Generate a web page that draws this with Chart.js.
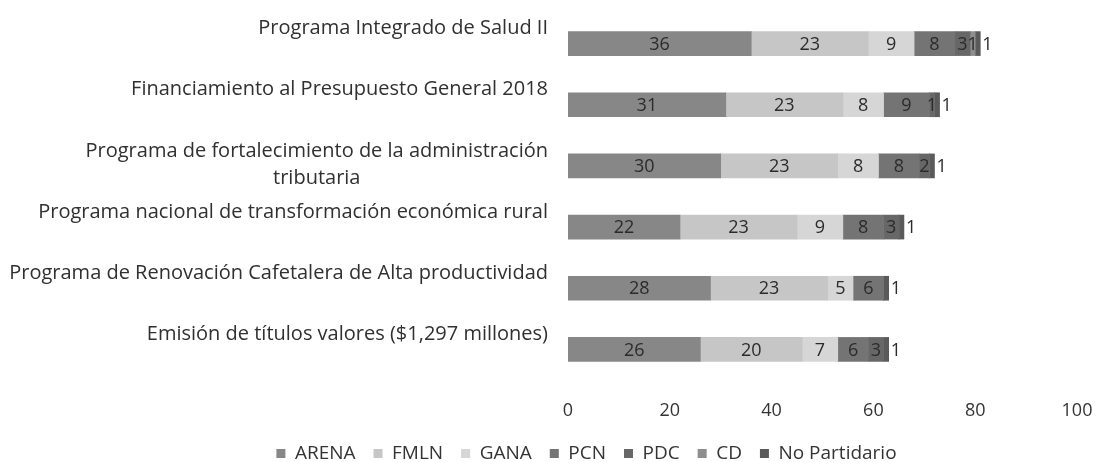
<!DOCTYPE html>
<html>
<head>
<meta charset="utf-8">
<script src="https://cdn.jsdelivr.net/npm/chart.js@4"></script>
<style>
  html, body { margin: 0; padding: 0; background: #fff; }
  #wrap { width: 1097px; height: 462px; position: relative; }
</style>
</head>
<body>
<div id="wrap"><canvas id="votosChart"></canvas></div>
<script>
// categorías (de arriba hacia abajo)
const programas = [
    'Programa Integrado de Salud II',
    'Financiamiento al Presupuesto General 2018',
    ['Programa de fortalecimiento de la administración', 'tributaria'],
    'Programa nacional de transformación económica rural',
    'Programa de Renovación Cafetalera de Alta productividad',
    'Emisión de títulos valores ($1,297 millones)'
];

const partidos = ['ARENA', 'FMLN', 'GANA', 'PCN', 'PDC', 'CD', 'No Partidario'];

const arena = [36, 31, 30, 22, 28, 26];
const fmln = [23, 23, 23, 23, 23, 20];
const gana = [9, 8, 8, 9, 5, 7];
const pcn = [8, 9, 8, 8, 6, 6];
const pdc = [3, 1, 2, 3, 0, 3];
const cd = [1, 0, 0, 0, 0, 0];
const noPartidario = [1, 1, 1, 1, 1, 1];

const xTicks = [0, 20, 40, 60, 80, 100];

const colores = ['#878787', '#c6c6c6', '#d6d6d6', '#747474', '#676767', '#8e8e8e', '#5a5a5a'];
const FONT = '"Open Sans", sans-serif';

const series = [arena, fmln, gana, pcn, pdc, cd, noPartidario];

// etiquetas de valores dentro de las barras
const valueLabels = {
    id: 'valueLabels',
    afterDatasetsDraw(chart) {
        const ctx = chart.ctx;
        ctx.save();
        ctx.font = '18px ' + FONT;
        ctx.fillStyle = '#2b2b2b';
        ctx.textBaseline = 'middle';
        chart.data.datasets.forEach((ds, di) => {
            const meta = chart.getDatasetMeta(di);
            meta.data.forEach((bar, i) => {
                const v = ds.data[i];
                if (!v) return;
                if (di === series.length - 1) {
                    ctx.textAlign = 'left';
                    ctx.fillText(v, bar.x + 2, bar.y + 1);
                } else {
                    ctx.textAlign = 'center';
                    ctx.fillText(v, (bar.x + bar.base) / 2, bar.y + 1);
                }
            });
        });
        ctx.restore();
    }
};

// nombres de programas (multilínea centrada como en el original)
const categoryLabels = {
    id: 'categoryLabels',
    afterDraw(chart) {
        const ctx = chart.ctx;
        const yScale = chart.scales.y;
        const right = 548;
        const lineH = 27;
        ctx.save();
        ctx.font = '20px ' + FONT;
        ctx.fillStyle = '#303030';
        ctx.textBaseline = 'middle';
        programas.forEach((lab, i) => {
            const yc = yScale.getPixelForValue(i);
            if (Array.isArray(lab)) {
                const w = Math.max(...lab.map(l => ctx.measureText(l).width));
                ctx.textAlign = 'center';
                lab.forEach((l, k) => {
                    ctx.fillText(l, right - w / 2, yc - 1 + (k - (lab.length - 1) / 2) * lineH);
                });
            } else {
                ctx.textAlign = 'right';
                ctx.fillText(lab, right, yc - 15);
            }
        });
        ctx.restore();
    }
};

new Chart(document.getElementById('votosChart').getContext('2d'), {
    type: 'bar',
    data: {
        labels: programas,
        datasets: partidos.map((p, i) => ({
            label: p,
            data: series[i],
            backgroundColor: colores[i],
            borderWidth: 0,
            barThickness: 24
        }))
    },
    options: {
        indexAxis: 'y',
        responsive: true,
        maintainAspectRatio: false,
        animation: false,
        layout: { padding: { top: 13, right: 20, bottom: -11, left: 96 } },
        scales: {
            x: {
                stacked: true,
                min: 0,
                max: 100,
                afterBuildTicks: s => { s.ticks = xTicks.map(v => ({ value: v })); },
                afterFit: s => { s.height = 46; s.paddingRight = 0; s.paddingLeft = 0; },
                grid: { display: false, drawTicks: false },
                border: { display: false },
                ticks: { padding: 20, color: '#333', font: { family: FONT, size: 18 } }
            },
            y: {
                stacked: true,
                afterFit: s => { s.width = 472; },
                grid: { display: false, drawTicks: false },
                border: { display: false },
                ticks: { display: false }
            }
        },
        plugins: {
            legend: {
                position: 'bottom',
                labels: {
                    boxWidth: 9,
                    boxHeight: 9,
                    padding: 18,
                    color: '#333',
                    font: { family: FONT, size: 19 }
                }
            },
            tooltip: { enabled: false }
        }
    },
    plugins: [valueLabels, categoryLabels]
});
</script>
</body>
</html>
